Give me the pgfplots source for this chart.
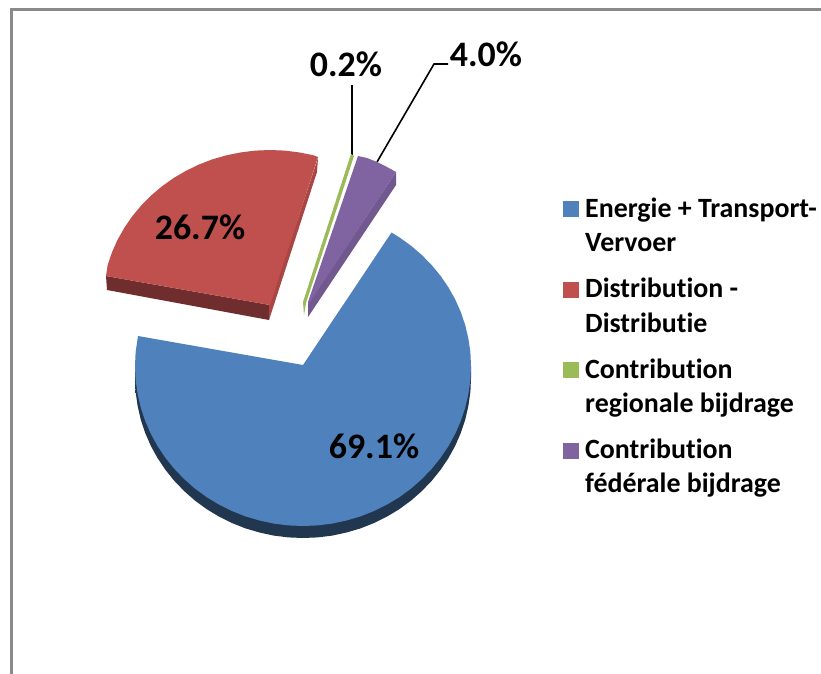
\documentclass[border=0pt]{standalone}
\usepackage{fontspec}
\setmainfont[Ligatures=NoCommon]{Carlito}
\usepackage{pgfplots}
\pgfplotsset{compat=1.18}

\definecolor{pieblue}{HTML}{4F81BD}
\definecolor{piered}{HTML}{C0504D}
\definecolor{piegreen}{HTML}{9BBB59}
\definecolor{piepurple}{HTML}{8064A2}
\definecolor{framegray}{HTML}{8A8A8A}

\pgfplotsset{
  slice/.style={draw=none, mark=none, fill=#1, area legend,
    legend image code/.code={\fill[#1] (0bp,8bp) rectangle (16bp,24bp);}},
  side/.style={draw=none, mark=none, fill=#1, forget plot},
  leader/.style={black, line width=1.6bp, mark=none, forget plot},
}

\begin{document}
\begin{tikzpicture}
\begin{axis}[scale only axis, width=821bp, height=674bp,
  xmin=0, xmax=821, ymin=0, ymax=674, y dir=reverse, axis lines=none,
  legend cell align=left,
  legend style={draw=none, fill=none, at={(axis cs:563,195.5)}, anchor=north west,
    font=\fontsize{28}{34.5}\selectfont\bfseries, row sep=21bp, column sep=4bp,
    inner sep=0pt, cells={align=left}},
  ]
% keep the whole canvas in the bounding box
\path (rel axis cs:0,0) rectangle (rel axis cs:1,1);
% frame, only top and left are in the picture
\addplot[framegray, line width=2.6bp, mark=none, forget plot] coordinates {(11.3,674) (11.3,9.3) (821,9.3)};

% side walls
\addplot[draw=none, mark=none, forget plot, left color=pieblue!42!black, middle color=pieblue!30!black, right color=pieblue!42!black] coordinates {
(471,378) (470.4,391.9) (468.4,405.8) (465.3,419.4) (460.9,432.7) (455.3,445.6) (448.5,458) (440.6,469.8)
(431.7,480.8) (421.8,491.1) (411,500.6) (399.4,509.1) (387,516.6) (374,523) (360.5,528.4) (346.5,532.5)
(332.2,535.6) (317.6,537.4) (303,538) (288.4,537.4) (273.8,535.6) (259.5,532.5) (245.5,528.4) (232,523)
(219,516.6) (206.6,509.1) (195,500.6) (184.2,491.1) (174.3,480.8) (165.4,469.8) (157.5,458) (150.7,445.6)
(145.1,432.7) (140.7,419.4) (137.6,405.8) (135.6,391.9) (135,378) (135,366) (471,366)};
\addplot[side=piered!58!black] coordinates {(106,276) (270,305) (269,320) (107,290)};
\addplot[side=piered!88!black] coordinates {(318,158) (317,172) (269,320) (269,305)};
\addplot[side=piepurple!88!black] coordinates {(396,172) (396,185) (308,317) (308,304)};

% leaders
\addplot[leader] coordinates {(352,85) (352,156)};
\addplot[leader] coordinates {(448,64) (434,64) (377,162)};

% top faces
\addplot[slice=pieblue] coordinates {
(303,365) (391.5,232.5) (399.4,237.4) (411,245.7) (421.8,255) (431.7,265.1) (440.6,275.9) (448.5,287.5)
(455.3,299.6) (460.9,312.3) (465.3,325.4) (468.4,338.7) (470.4,352.3) (471,366) (470.4,379.9) (468.4,393.8)
(465.3,407.4) (460.9,420.7) (455.3,433.6) (448.5,446) (440.6,457.8) (431.7,468.8) (421.8,479.1) (411,488.6)
(399.4,497.1) (387,504.6) (374,511) (360.5,516.4) (346.5,520.5) (332.2,523.6) (317.6,525.4) (303,526)
(288.4,525.4) (273.8,523.6) (259.5,520.5) (245.5,516.4) (232,511) (219,504.6) (206.6,497.1) (195,488.6)
(184.2,479.1) (174.3,468.8) (165.4,457.8) (157.5,446) (150.7,433.6) (145.1,420.7) (140.7,407.4) (137.6,393.8)
(135.6,379.9) (135,366) (135.6,352.3) (138,336)};
\addlegendentry{Energie + Transport-\\Vervoer}
\addplot[slice=piered] coordinates {
(270,305) (106,276) (107.7,264.9) (112.1,252) (117.7,239.5) (124.5,227.5) (132.4,216.1) (141.3,205.4)
(151.2,195.4) (162,186.3) (173.6,178) (186,170.8) (199,164.5) (212.5,159.3) (226.5,155.3) (240.8,152.4)
(255.4,150.6) (270,150) (284.6,150.6) (299.2,152.4) (313.5,155.3) (318,157)};
\addlegendentry{Distribution -\\Distributie}
\addplot[slice=piegreen] coordinates {(351,154) (354,156) (306,303) (304,315) (303,302)};
\addlegendentry{Contribution\\regionale bijdrage}
\addplot[slice=piepurple] coordinates {(358,156) (367,158) (377,162) (387,167) (396,172) (308,305) (308,302)};
\addlegendentry{Contribution\\fédérale bijdrage}

% data labels
\node[font=\fontsize{36}{36}\selectfont\bfseries] at (axis cs:346,64) {0.2\%};
\node[font=\fontsize{36}{36}\selectfont\bfseries] at (axis cs:486,54) {4.0\%};
\node[font=\fontsize{36}{36}\selectfont\bfseries] at (axis cs:200,227) {26.7\%};
\node[font=\fontsize{36}{36}\selectfont\bfseries] at (axis cs:374,446) {69.1\%};
\end{axis}
\end{tikzpicture}
\end{document}
